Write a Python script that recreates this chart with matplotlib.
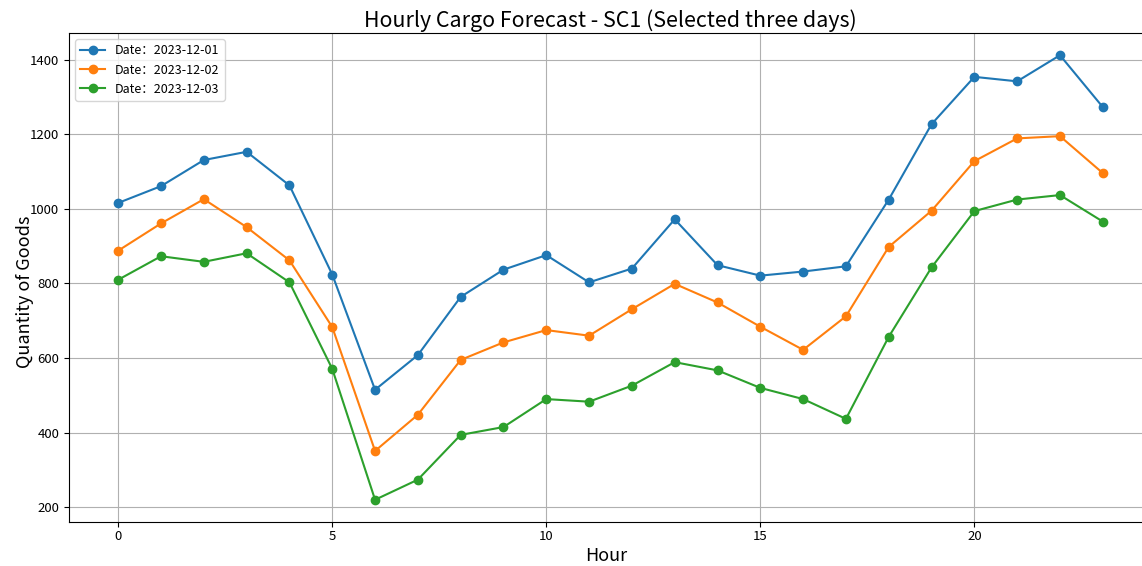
import matplotlib
matplotlib.use("Agg")
import matplotlib.pyplot as plt

plt.rcParams['font.family'] = ['Noto Sans CJK SC', 'DejaVu Sans']
plt.rcParams['axes.unicode_minus'] = False

hours = list(range(24))
labels = ["Date：2023-12-01", "Date：2023-12-02", "Date：2023-12-03"]
day1 = [1016, 1061, 1131, 1153, 1063, 824, 515, 608, 764, 837, 876, 803,
        840, 972, 849, 821, 832, 846, 1025, 1227, 1354, 1342, 1412, 1273]
day2 = [888, 961, 1026, 951, 862, 683, 351, 448, 595, 642, 675, 660,
        731, 799, 749, 684, 622, 712, 898, 995, 1128, 1189, 1195, 1096]
day3 = [810, 873, 858, 881, 803, 571, 220, 274, 394, 415, 490, 483,
        526, 589, 567, 520, 490, 437, 657, 843, 994, 1025, 1037, 966]
series = [day1, day2, day3]

W, H = 1142, 566
fig = plt.figure(figsize=(W / 100, H / 100), dpi=100)
ax_left, ax_right, ax_top, ax_bottom = 69, 1152, 33, 522
ax_w = ax_right - ax_left
ax = fig.add_axes([ax_left / W, 1 - ax_bottom / H,
                   ax_w / W, (ax_bottom - ax_top) / H])
for lab, vals in zip(labels, series):
    ax.plot(hours, vals, marker='o', label=lab)

ax.set_title("Hourly Cargo Forecast - SC1 (Selected three days)", fontsize=15.4, pad=4)
ax.set_xlabel("Hour", fontsize=13)
ax.set_ylabel("Quantity of Goods", fontsize=13)
ax.tick_params(axis='both', labelsize=9.5)
ax.tick_params(axis='x', pad=2)
ax.xaxis.set_label_coords((606 - ax_left) / ax_w, -0.052)
ax.yaxis.set_label_coords((34 - ax_left) / ax_w, 0.47)
ax.grid(True)
ax.legend(loc='upper left', fontsize=9)

fig.savefig("out.png", dpi=100)
